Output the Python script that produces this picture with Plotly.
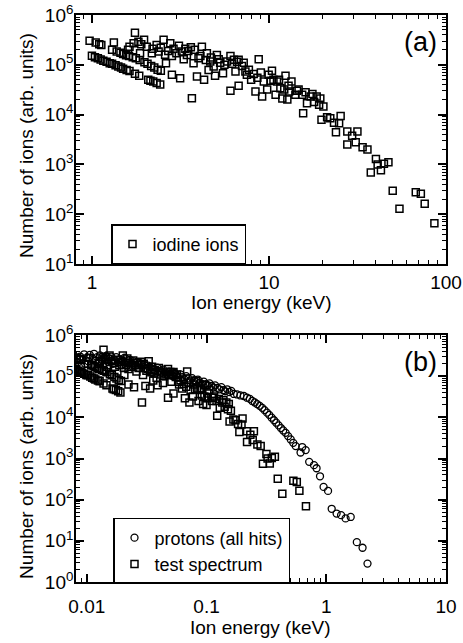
import plotly.graph_objects as go

# ---------------- data ----------------
# Panel (a): iodine ions
iodine_energy_kev = [
    0.97, 1.00, 1.04, 1.05, 1.08, 1.10, 1.12, 1.13, 1.16, 1.21, 1.26, 1.30, 1.30, 1.33, 1.36, 1.38,
    1.41, 1.45, 1.46, 1.50, 1.50, 1.56, 1.57, 1.60, 1.62, 1.63, 1.63, 1.70, 1.72, 1.75, 1.75, 1.77,
    1.83, 1.85, 1.86, 1.87, 1.90, 1.97, 1.98, 2.04, 2.06, 2.08, 2.14, 2.16, 2.18, 2.20, 2.22, 2.25,
    2.32, 2.32, 2.35, 2.38, 2.43, 2.45, 2.45, 2.54, 2.59, 2.62, 2.70, 2.77, 2.83, 2.83, 2.89, 3.00,
    3.10, 3.15, 3.22, 3.30, 3.37, 3.44, 3.50, 3.62, 3.67, 3.75, 3.80, 3.92, 4.00, 4.10, 4.18, 4.30,
    4.40, 4.46, 4.56, 4.66, 4.70, 4.87, 4.96, 5.08, 5.20, 5.30, 5.50, 5.60, 5.80, 6.06, 6.06, 6.20,
    6.34, 6.47, 6.60, 6.74, 6.74, 7.04, 7.20, 7.36, 7.50, 7.70, 7.93, 8.20, 8.39, 8.60, 8.75, 9.00,
    9.15, 9.35, 9.77, 9.96, 10.2, 10.4, 10.6, 10.9, 11.1, 11.4, 11.6, 11.9, 12.2, 12.4, 12.7, 12.9,
    13.0, 13.4, 14.1, 14.4, 14.7, 15.4, 15.6, 16.1, 16.4, 17.2, 17.6, 18.0, 18.6, 19.2, 19.5, 19.8,
    20.3, 21.3, 22.2, 23.3, 23.9, 24.9, 25.4, 27.7, 27.7, 29.5, 30.9, 31.6, 33.8, 36.0, 37.6, 40.2,
    41.1, 42.9, 44.6, 47.3, 50.0, 54.6, 67.5, 72.1, 75.8, 86.0,
]
iodine_counts = [
    3.05e5, 1.52e5, 1.42e5, 2.8e5, 1.35e5, 2.6e5, 1.28e5, 2.5e5, 1.21e5, 1.15e5, 1.07e5, 1.05e5, 2.0e5, 2.8e5, 9.8e4, 1.85e5,
    9.2e4, 1.75e5, 8.8e4, 8.3e4, 1.65e5, 1.55e5, 7.9e4, 2.0e5, 1.5e5, 7.5e4, 2.3e5, 1.42e5, 2.7e5, 6.6e4, 4.4e5, 1.35e5,
    2.9e5, 6.0e4, 1.25e5, 1.7e5, 2.6e5, 3.2e5, 1.12e5, 2.3e5, 1.05e5, 5.0e4, 4.8e4, 9.5e4, 1.7e5, 2.1e5, 4.6e4, 8.8e4,
    4.3e4, 2.5e5, 8.0e4, 1.84e5, 4.0e4, 7.6e4, 2.2e5, 3.2e5, 1.6e5, 1.07e5, 1.9e5, 2.7e5, 1.5e5, 6.3e4, 2.1e5, 1.7e5,
    2.4e5, 5.4e4, 1.84e5, 1.3e5, 2.1e5, 1.58e5, 1.9e5, 2.24e5, 2.13e4, 1.07e5, 2.0e5, 5.8e4, 1.35e5, 1.5e5, 2.3e5, 5.0e4,
    1.25e5, 1.7e5, 7.9e4, 1.16e5, 1.4e5, 9.2e4, 6.0e4, 1.58e5, 1.3e5, 1.1e5, 6.8e4, 1.0e5, 1.16e5, 3.0e4, 1.5e5, 1.05e5,
    1.26e5, 7.3e4, 1.15e5, 3.8e4, 1.26e5, 9.5e4, 1.1e5, 7.3e4, 6.3e4, 8.0e4, 5.0e4, 6.5e4, 2.9e4, 5.5e4, 1.29e5, 7.0e4,
    2.3e4, 4.6e4, 3.2e4, 6.3e4, 4.8e4, 7.6e4, 5.0e4, 2.5e4, 4.6e4, 5.0e4, 3.4e4, 2.1e4, 3.2e4, 6.0e4, 2.0e4, 3.8e4,
    2.9e4, 4.6e4, 2.5e4, 3.0e4, 3.2e4, 2.5e4, 1.07e4, 2.8e4, 1.7e4, 2.3e4, 2.6e4, 1.8e4, 2.3e4, 1.57e4, 2.1e4, 7.9e3,
    1.45e4, 8.9e3, 8.5e3, 6.9e3, 4.4e3, 6.7e3, 9.4e3, 4.6e3, 2.5e3, 3.75e3, 2.8e3, 4.6e3, 2.2e3, 2.0e3, 690, 1.28e3,
    1.0e3, 760, 1.03e3, 1.1e3, 295, 129, 275, 257, 162, 66,
]

# Panel (b): protons (all hits)
proton_energy_kev = [
    0.0085, 0.0088, 0.0090, 0.0092, 0.0095, 0.0097, 0.0100, 0.0103, 0.0106, 0.0109, 0.0112, 0.0115,
    0.0118, 0.0122, 0.0125, 0.0129, 0.0133, 0.0137, 0.0141, 0.0145, 0.0150, 0.0155, 0.0160, 0.0165,
    0.0170, 0.0176, 0.0182, 0.0188, 0.0194, 0.0200, 0.0207, 0.0214, 0.0221, 0.0229, 0.0237, 0.0245,
    0.0254, 0.0263, 0.0272, 0.0282, 0.0292, 0.0302, 0.0313, 0.0325, 0.0337, 0.0349, 0.0362, 0.0375,
    0.0389, 0.0403, 0.0418, 0.0434, 0.0450, 0.0467, 0.0485, 0.0503, 0.0522, 0.0542, 0.0562, 0.0583,
    0.0605, 0.0628, 0.0652, 0.0677, 0.0703, 0.0730, 0.0758, 0.0787, 0.0817, 0.0848, 0.0880, 0.0914,
    0.0949, 0.0985, 0.102, 0.106, 0.110, 0.114, 0.118, 0.123, 0.128, 0.133, 0.138, 0.143,
    0.149, 0.155, 0.161, 0.169, 0.180, 0.192, 0.205, 0.218, 0.230, 0.241, 0.253, 0.265,
    0.278, 0.292, 0.305, 0.320, 0.334, 0.350, 0.366, 0.382, 0.400, 0.418, 0.437, 0.458,
    0.480, 0.505, 0.530, 0.556, 0.610, 0.630, 0.673, 0.720, 0.790, 0.830, 0.887, 0.950,
    1.035, 1.11, 1.22, 1.33, 1.45, 1.60, 1.80, 2.01, 2.21,
]
proton_counts = [
    2.2e5, 3.0e5, 1.7e5, 2.6e5, 3.4e5, 2.0e5, 2.8e5, 2.3e5, 3.3e5, 1.9e5, 2.7e5, 3.5e5,
    2.4e5, 2.9e5, 2.1e5, 3.2e5, 2.5e5, 1.8e5, 2.8e5, 3.1e5, 2.2e5, 2.7e5, 3.0e5, 2.0e5,
    2.5e5, 2.9e5, 2.2e5, 2.6e5, 1.9e5, 2.4e5, 2.8e5, 2.1e5, 1.7e5, 2.5e5, 2.0e5, 2.3e5,
    1.8e5, 2.2e5, 1.6e5, 2.0e5, 1.7e5, 1.9e5, 1.5e5, 1.8e5, 1.4e5, 1.7e5, 1.5e5, 1.3e5,
    1.6e5, 1.35e5, 1.2e5, 1.45e5, 1.25e5, 1.1e5, 1.3e5, 1.15e5, 1.0e5, 1.2e5, 1.05e5, 9.2e4,
    1.1e5, 9.5e4, 8.5e4, 1.0e5, 8.8e4, 7.8e4, 9.0e4, 8.0e4, 7.2e4, 8.2e4, 7.0e4, 6.5e4,
    7.4e4, 6.4e4, 5.9e4, 6.7e4, 5.8e4, 5.3e4, 6.0e4, 5.2e4, 4.8e4, 5.4e4, 4.6e4, 4.3e4,
    4.8e4, 4.1e4, 4.4e4, 3.7e4, 3.6e4, 3.4e4, 3.3e4, 3.0e4, 2.8e4, 2.5e4, 2.3e4, 2.1e4,
    1.9e4, 1.7e4, 1.5e4, 1.3e4, 1.15e4, 9.8e3, 8.5e3, 7.4e3, 6.4e3, 5.5e3, 4.8e3, 4.2e3,
    3.5e3, 2.9e3, 2.4e3, 2.0e3, 1.4e3, 1.9e3, 1.6e3, 830, 690, 580, 370, 204,
    163, 60, 46, 42, 35, 38, 9.3, 6.8, 2.8,
]

# Panel (b): test spectrum
test_energy_kev = [
    0.00763, 0.00787, 0.00818, 0.00826, 0.00850, 0.00866, 0.00881, 0.00889, 0.00913, 0.00952, 0.00992, 0.0102, 0.0102, 0.0105, 0.0107, 0.0109,
    0.0111, 0.0114, 0.0115, 0.0118, 0.0118, 0.0123, 0.0124, 0.0126, 0.0127, 0.0128, 0.0128, 0.0134, 0.0135, 0.0138, 0.0138, 0.0139,
    0.0144, 0.0146, 0.0146, 0.0147, 0.0150, 0.0155, 0.0156, 0.0161, 0.0162, 0.0164, 0.0168, 0.0170, 0.0172, 0.0173, 0.0175, 0.0177,
    0.0183, 0.0183, 0.0185, 0.0187, 0.0191, 0.0193, 0.0193, 0.0200, 0.0204, 0.0206, 0.0212, 0.0218, 0.0223, 0.0223, 0.0227, 0.0236,
    0.0244, 0.0248, 0.0253, 0.0260, 0.0265, 0.0271, 0.0275, 0.0285, 0.0289, 0.0295, 0.0299, 0.0309, 0.0315, 0.0323, 0.0329, 0.0338,
    0.0346, 0.0351, 0.0359, 0.0367, 0.0370, 0.0383, 0.0390, 0.0400, 0.0409, 0.0417, 0.0433, 0.0441, 0.0456, 0.0477, 0.0477, 0.0488,
    0.0499, 0.0509, 0.0519, 0.0530, 0.0530, 0.0554, 0.0567, 0.0579, 0.0590, 0.0606, 0.0624, 0.0645, 0.0660, 0.0677, 0.0689, 0.0708,
    0.0720, 0.0736, 0.0769, 0.0784, 0.0803, 0.0818, 0.0834, 0.0858, 0.0874, 0.0897, 0.0913, 0.0937, 0.0960, 0.0976, 0.1000, 0.1015,
    0.1023, 0.1055, 0.1110, 0.1133, 0.1157, 0.1212, 0.1228, 0.1267, 0.1291, 0.1354, 0.1385, 0.1417, 0.1464, 0.1511, 0.1535, 0.1558,
    0.1598, 0.1676, 0.1747, 0.1834, 0.1881, 0.1960, 0.1999, 0.2180, 0.2180, 0.2322, 0.2432, 0.2487, 0.2660, 0.2833, 0.2959, 0.3164,
    0.3235, 0.3376, 0.3510, 0.3723, 0.3935, 0.4297, 0.5312, 0.5674, 0.5965, 0.6768,
]
test_counts = [
    3.05e5, 1.52e5, 1.42e5, 2.8e5, 1.35e5, 2.6e5, 1.28e5, 2.5e5, 1.21e5, 1.15e5, 1.07e5, 1.05e5, 2.0e5, 2.8e5, 9.8e4, 1.85e5,
    9.2e4, 1.75e5, 8.8e4, 8.3e4, 1.65e5, 1.55e5, 7.9e4, 2.0e5, 1.5e5, 7.5e4, 2.3e5, 1.42e5, 2.7e5, 6.6e4, 4.4e5, 1.35e5,
    2.9e5, 6.0e4, 1.25e5, 1.7e5, 2.6e5, 3.2e5, 1.12e5, 2.3e5, 1.05e5, 5.0e4, 4.8e4, 9.5e4, 1.7e5, 2.1e5, 4.6e4, 8.8e4,
    4.3e4, 2.5e5, 8.0e4, 1.84e5, 4.0e4, 7.6e4, 2.2e5, 3.2e5, 1.6e5, 1.07e5, 1.9e5, 2.7e5, 1.5e5, 6.3e4, 2.1e5, 1.7e5,
    2.4e5, 5.4e4, 1.84e5, 1.3e5, 2.1e5, 1.58e5, 1.9e5, 2.24e5, 2.3e4, 1.07e5, 2.0e5, 5.8e4, 1.35e5, 1.5e5, 2.3e5, 5.0e4,
    1.25e5, 1.7e5, 7.9e4, 1.16e5, 1.4e5, 9.2e4, 6.0e4, 1.58e5, 1.3e5, 1.1e5, 6.8e4, 1.0e5, 1.16e5, 3.0e4, 1.5e5, 1.05e5,
    1.26e5, 7.3e4, 1.15e5, 3.8e4, 1.26e5, 9.5e4, 1.1e5, 7.3e4, 6.3e4, 8.0e4, 5.0e4, 6.5e4, 2.9e4, 5.5e4, 1.29e5, 7.0e4,
    2.3e4, 4.6e4, 3.2e4, 6.3e4, 4.8e4, 7.6e4, 5.0e4, 2.5e4, 4.6e4, 5.0e4, 3.4e4, 2.1e4, 3.2e4, 6.0e4, 2.0e4, 3.8e4,
    2.9e4, 4.6e4, 2.5e4, 3.0e4, 3.2e4, 2.5e4, 1.1e4, 2.8e4, 1.7e4, 2.3e4, 2.6e4, 1.8e4, 2.3e4, 1.57e4, 2.1e4, 7.9e3,
    1.45e4, 8.9e3, 8.5e3, 6.9e3, 4.4e3, 6.7e3, 9.4e3, 4.6e3, 2.5e3, 3.75e3, 2.8e3, 4.6e3, 2.2e3, 2.0e3, 750, 1.28e3,
    1.0e3, 760, 1.03e3, 1.1e3, 320, 140, 290, 270, 165, 69,
]

xa_tickvals = [1, 10, 100]
xa_ticktext = ["1", "10", "100"]
ya_tickvals = [1e1, 1e2, 1e3, 1e4, 1e5, 1e6]
ya_ticktext = ["10<sup>1</sup>", "10<sup>2</sup>", "10<sup>3</sup>", "10<sup>4</sup>", "10<sup>5</sup>", "10<sup>6</sup>"]
xb_tickvals = [0.01, 0.1, 1, 10]
xb_ticktext = ["0.01", "0.1", "1", "10"]
yb_tickvals = [1e0, 1e1, 1e2, 1e3, 1e4, 1e5, 1e6]
yb_ticktext = ["10<sup>0</sup>", "10<sup>1</sup>", "10<sup>2</sup>", "10<sup>3</sup>", "10<sup>4</sup>", "10<sup>5</sup>", "10<sup>6</sup>"]


def minor_vals(lo_exp, hi_exp):
    vals = []
    for e in range(lo_exp, hi_exp + 1):
        for m in range(2, 10):
            vals.append(m * 10.0 ** e)
    return vals


FONT = "Liberation Sans, Arial, Helvetica, sans-serif"
BLACK = "#000000"

fig = go.Figure()

fig.add_trace(go.Scatter(
    x=iodine_energy_kev, y=iodine_counts, mode="markers", name="iodine ions",
    xaxis="x", yaxis="y", legend="legend",
    marker=dict(symbol="square-open", size=7, color=BLACK, line=dict(width=1.5, color=BLACK)),
))
fig.add_trace(go.Scatter(
    x=proton_energy_kev, y=proton_counts, mode="markers", name="protons (all hits)",
    xaxis="x2", yaxis="y2", legend="legend2",
    marker=dict(symbol="circle-open", size=7, color=BLACK, line=dict(width=1.3, color=BLACK)),
))
fig.add_trace(go.Scatter(
    x=test_energy_kev, y=test_counts, mode="markers", name="test spectrum",
    xaxis="x2", yaxis="y2", legend="legend2",
    marker=dict(symbol="square-open", size=7, color=BLACK, line=dict(width=1.5, color=BLACK)),
))


def axis_style(tickvals, ticktext, rng, minor, **kw):
    d = dict(
        type="log", range=rng, tickmode="array", tickvals=tickvals, ticktext=ticktext,
        ticks="inside", ticklen=8, tickwidth=1.5, tickcolor=BLACK,
        showline=True, linewidth=1.6, linecolor=BLACK, mirror="ticks",
        showgrid=False, zeroline=False, automargin=False,
        tickfont=dict(family=FONT, size=19, color=BLACK),
        minor=dict(tickmode="array", tickvals=minor, ticks="inside", ticklen=4,
                   tickwidth=1.2, tickcolor=BLACK, showgrid=False),
    )
    d.update(kw)
    return d


fig.update_layout(
    template="none",
    width=463, height=643,
    margin=dict(l=76, r=17, t=15, b=61, pad=0, autoexpand=False),
    paper_bgcolor="white", plot_bgcolor="white",
    font=dict(family=FONT, size=19, color=BLACK),
    xaxis=axis_style(xa_tickvals, xa_ticktext, [-0.09, 2.0], minor_vals(-1, 1),
                     domain=[0, 1], anchor="y", ticklabelstandoff=0),
    yaxis=axis_style(ya_tickvals, ya_ticktext, [1, 6], minor_vals(1, 5),
                     domain=[0.5608, 1.0], anchor="x", ticklabelstandoff=-3),
    xaxis2=axis_style(xb_tickvals, xb_ticktext, [-2.09, 1.0], minor_vals(-3, 0),
                      domain=[0, 1], anchor="y2", ticklabelstandoff=6),
    yaxis2=axis_style(yb_tickvals, yb_ticktext, [0, 6], minor_vals(0, 5),
                      domain=[0.0, 0.4356], anchor="x2", ticklabelstandoff=-3),
    legend=dict(
        x=0.0946, y=0.631, xanchor="left", yanchor="top",
        bordercolor=BLACK, borderwidth=1.5, bgcolor="white",
        font=dict(family=FONT, size=18, color=BLACK),
        itemwidth=30, tracegroupgap=0,
    ),
    legend2=dict(
        x=0.1, y=0.113, xanchor="left", yanchor="top",
        bordercolor=BLACK, borderwidth=1.5, bgcolor="white",
        font=dict(family=FONT, size=18, color=BLACK),
        itemwidth=30, tracegroupgap=0,
    ),
    showlegend=True,
)


def note(text, x, y, size=19, angle=0):
    return dict(text=text, x=x, y=y, xref="paper", yref="paper", showarrow=False,
                xanchor="center", yanchor="middle", textangle=angle,
                font=dict(family=FONT, size=size, color=BLACK))


annots = [
    note("(a)", 0.93, 0.952, size=27),
    note("(b)", 0.93, 0.388, size=27),
    note("Ion energy (keV)", 0.5, 0.4938),
    note("Ion energy (keV)", 0.497, -0.0811),
    note("Number of ions (arb. units)", -0.1324, 0.769, angle=-90),
    note("Number of ions (arb. units)", -0.1324, 0.203, angle=-90),
]
fig.update_layout(annotations=annots)

fig.write_html(
    "out.html",
    config={"displayModeBar": False},
    post_script="document.body.style.margin='0';document.body.style.overflow='hidden';",
)
